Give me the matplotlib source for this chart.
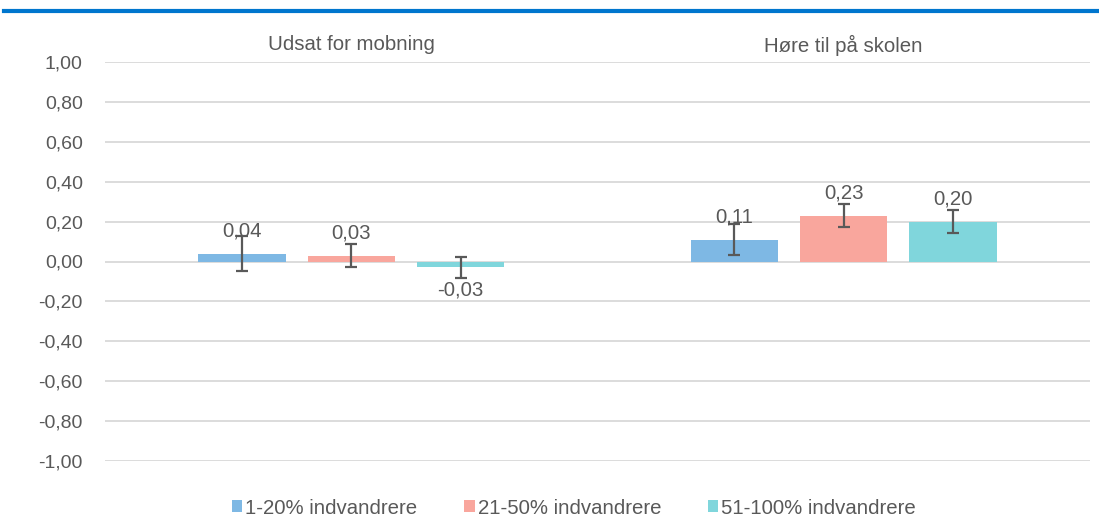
import matplotlib.pyplot as plt
import matplotlib.transforms as mtransforms
import numpy as np
from matplotlib.lines import Line2D
from matplotlib.patches import Patch

plt.rcParams['font.family'] = ['Liberation Sans', 'DejaVu Sans']

# data
categories = ['Udsat for mobning', 'Høre til på skolen']
series_names = ['1-20% indvandrere', '21-50% indvandrere', '51-100% indvandrere']
values = [
    [0.04, 0.11],
    [0.03, 0.23],
    [-0.03, 0.20],
]
errors = [
    [0.087, 0.079],
    [0.057, 0.057],
    [0.054, 0.057],
]
yticks = [-1.0, -0.8, -0.6, -0.4, -0.2, 0.0, 0.2, 0.4, 0.6, 0.8, 1.0]

colors = ['#7eb8e4', '#f9a69d', '#80d6dc']
text_color = '#595959'
fs = 14.7


def fmt(v):
    return f'{v:.2f}'.replace('.', ',')


fig = plt.figure(figsize=(10.99, 5.19), dpi=100)
ax = fig.add_axes([105 / 1099, 1 - 461 / 519, 985 / 1099, 399 / 519])

x = np.arange(len(categories))
width = 0.177
step = 0.222

for i, (vals, errs) in enumerate(zip(values, errors)):
    pos = x + (i - 1) * step
    ax.bar(pos, vals, width, color=colors[i], zorder=2)
    ax.errorbar(pos, vals, yerr=errs, fmt='none', ecolor=text_color,
                elinewidth=1.6, capsize=4.3, capthick=1.6, zorder=3)
    for p, v in zip(pos, vals):
        off = 16.5 if v >= 0 else -16.5
        ax.annotate(fmt(v), (p, v), xytext=(0, off), textcoords='offset points',
                    ha='center', va='center', fontsize=fs, color=text_color, zorder=4)

ax.set_xlim(-0.5, 1.5)
ax.set_ylim(-1.0, 1.0)
ax.set_yticks(yticks)
ax.set_yticklabels([fmt(t) for t in yticks])
ax.set_xticks([])
ax.tick_params(axis='y', length=0, pad=16, labelsize=14, labelcolor=text_color)
ax.grid(axis='y', color='#d9d9d9', linewidth=1.3, zorder=0)
ax.set_axisbelow(True)
for s in ax.spines.values():
    s.set_visible(False)

trans = mtransforms.blended_transform_factory(ax.transData, ax.transAxes)
for xi, c in zip(x, categories):
    ax.text(xi, 1 + 17 / 399, c, transform=trans, ha='center', va='center',
            fontsize=fs, color=text_color)

# blue rule at the top
fig.add_artist(Line2D([4 / 1099, 1], [1 - 11 / 519, 1 - 11 / 519],
                      color='#0076ce', linewidth=3, transform=fig.transFigure))

handles = [Patch(facecolor=c, edgecolor='none') for c in colors]
leg = fig.legend(handles, series_names, loc='center', ncol=3,
                 bbox_to_anchor=(574 / 1099, 1 - 508 / 519), frameon=False,
                 fontsize=fs, handlelength=0.5, handleheight=0.5,
                 handletextpad=0.15, columnspacing=2.3)
for t in leg.get_texts():
    t.set_color(text_color)

fig.savefig('out.png', dpi=100)
